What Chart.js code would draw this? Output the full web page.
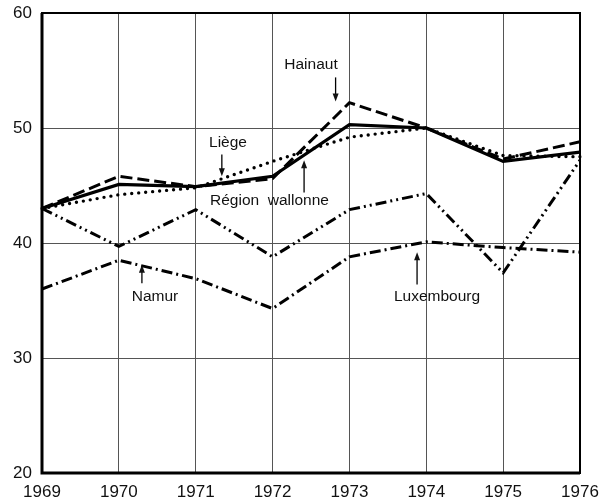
<!DOCTYPE html>
<html>
<head>
<meta charset="utf-8">
<script src="https://cdn.jsdelivr.net/npm/chart.js@4/dist/chart.umd.min.js"></script>
<style>
html,body{margin:0;padding:0;background:#fff;}
#wrap{width:612px;height:501px;position:relative;}
</style>
</head>
<body>
<div id="wrap"><canvas id="c" width="612" height="501"></canvas></div>
<script>
const years = ["1969","1970","1971","1972","1973","1974","1975","1976"];
const yTicks = [20,30,40,50,60];
const regionWallonne = [43.0,45.1,44.9,45.8,50.3,50.0,47.1,47.9];
const hainaut        = [43.0,45.8,44.9,45.6,52.2,50.0,47.3,48.8];
const liege          = [43.0,44.2,44.8,47.1,49.2,50.0,47.6,47.5];
const namur          = [36.0,38.5,36.9,34.3,38.8,40.1,39.6,39.2];
const luxembourg     = [43.0,39.7,42.9,38.8,42.9,44.3,37.4,47.2];

// annotation labels: [text, xIndex, yValue] and arrows: [xIndex, yFrom, yTo]
const labels = [
  ["Hainaut", 3.50, 55.5],
  ["Liège", 2.42, 48.7],
  ["Région  wallonne", 2.96, 43.7],
  ["Namur", 1.47, 35.3],
  ["Luxembourg", 5.14, 35.3]
];
const arrows = [
  [3.82, 54.4, 52.3],
  [2.34, 47.7, 45.8],
  [3.41, 44.4, 47.2],
  [1.30, 36.5, 38.1],
  [4.88, 36.4, 39.2]
];

const FONT = "'Liberation Sans', Arial, Helvetica, sans-serif";

const frame = {
  id: 'frame',
  afterDatasetsDraw(chart) {
    const {ctx, chartArea: a, scales} = chart;
    ctx.save();
    ctx.strokeStyle = '#000';
    ctx.lineWidth = 2;
    ctx.strokeRect(a.left, a.top, a.right - a.left, a.bottom - a.top);
    ctx.lineWidth = 3;
    ctx.beginPath();
    ctx.moveTo(a.left, a.top); ctx.lineTo(a.left, a.bottom); ctx.lineTo(a.right, a.bottom);
    ctx.stroke();
    // annotations
    ctx.fillStyle = '#111';
    ctx.font = "15.5px " + FONT;
    ctx.textAlign = 'center';
    ctx.textBaseline = 'middle';
    labels.forEach(([t, xi, yv]) => {
      ctx.fillText(t, scales.x.getPixelForValue(xi), scales.y.getPixelForValue(yv));
    });
    ctx.lineWidth = 1.3;
    arrows.forEach(([xi, y0, y1]) => {
      const x = scales.x.getPixelForValue(xi);
      const p0 = scales.y.getPixelForValue(y0);
      const p1 = scales.y.getPixelForValue(y1);
      const dir = p1 > p0 ? 1 : -1;
      ctx.beginPath();
      ctx.moveTo(x, p0); ctx.lineTo(x, p1 - dir * 6);
      ctx.stroke();
      ctx.beginPath();
      ctx.moveTo(x, p1);
      ctx.lineTo(x - 3, p1 - dir * 8);
      ctx.lineTo(x + 3, p1 - dir * 8);
      ctx.closePath();
      ctx.fill();
    });
    ctx.restore();
  }
};

const base = {borderColor:'#000', pointRadius:0, fill:false, tension:0, borderWidth:3};

new Chart(document.getElementById('c'), {
  type: 'line',
  data: {
    labels: years,
    datasets: [
      Object.assign({label:'Région wallonne', data: regionWallonne}, base, {borderWidth:3.2}),
      Object.assign({label:'Hainaut', data: hainaut}, base, {borderDash:[12,5]}),
      Object.assign({label:'Liège', data: liege}, base, {borderDash:[0,7], borderCapStyle:'round', borderWidth:3.4}),
      Object.assign({label:'Namur', data: namur}, base, {borderDash:[11,4,2,4]}),
      Object.assign({label:'Luxembourg', data: luxembourg}, base, {borderDash:[11,4,2,4,2,4]})
    ]
  },
  options: {
    responsive: false,
    animation: false,
    devicePixelRatio: 1,
    layout: {padding: {top: 13, right: 32, bottom: 0, left: 0}},
    plugins: {legend: {display:false}, tooltip: {enabled:false}},
    scales: {
      x: {
        type: 'category',
        offset: false,
        border: {display:false},
        grid: {
          drawTicks: false,
          color: (c) => (c.index === 0 || c.index === years.length - 1) ? 'rgba(0,0,0,0)' : '#555',
          lineWidth: 1
        },
        ticks: {color:'#111', font:{family:FONT, size:17}, padding:9, maxRotation:0, autoSkip:false},
        afterFit: (s) => { s.height = 28; }
      },
      y: {
        min: 20, max: 60,
        afterBuildTicks: (s) => { s.ticks = yTicks.map(v => ({value:v})); },
        border: {display:false},
        grid: {
          drawTicks: false,
          color: (c) => (c.tick && (c.tick.value === 20 || c.tick.value === 60)) ? 'rgba(0,0,0,0)' : '#555',
          lineWidth: 1
        },
        ticks: {color:'#111', font:{family:FONT, size:17}, padding:10},
        afterFit: (s) => { s.width = 42; s.paddingTop = 0; s.paddingBottom = 0; }
      }
    }
  },
  plugins: [frame]
});
</script>
</body>
</html>
